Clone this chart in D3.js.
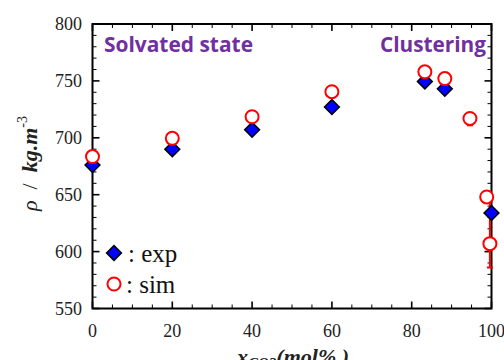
<!DOCTYPE html>
<html><head><meta charset="utf-8">
<script src="https://cdn.jsdelivr.net/npm/d3@7"></script>
<style>html,body{margin:0;padding:0;background:#fff;overflow:hidden}</style>
</head><body>
<svg id="c" width="504" height="360"></svg>
<script>
// ---- data ----
const expX = [0, 20, 40, 60, 83.3, 88.3, 100];
const expY = [676, 690, 707, 727, 749.5, 743, 634];
const simX = [0, 20, 40, 60, 83.3, 88.3, 94.6, 98.8, 99.6];
const simY = [683.5, 699.5, 718.5, 740.5, 758, 752, 717, 648, 607];
const simErrLow  = [null, null, null, null, null, null, 711, null, 586];
const simErrHigh = [null, null, null, null, null, null, 722, null, 645];
const xTicks = [0, 20, 40, 60, 80, 100];
const yTicks = [550, 600, 650, 700, 750, 800];
const legendLabels = [": exp", ": sim"];
const regionLabels = ["Solvated state", "Clustering"];

const svg = d3.select("#c");
const L = 92.5, R = 491.5, T = 24, B = 308.5;
const x = d3.scaleLinear().domain([0, 100]).range([L, R]);
const y = d3.scaleLinear().domain([550, 800]).range([B, T]);

const serif = "'Liberation Serif','Times New Roman',serif";

// minor ticks
const g = svg.append("g");
const xMinor = d3.range(0, 101, 5).filter(v => v % 20 !== 0);
const yMinor = d3.range(550, 801, 10).filter(v => v % 50 !== 0);
function tk(x1, y1, x2, y2, w) {
  g.append("line").attr("x1", x1).attr("y1", y1).attr("x2", x2).attr("y2", y2)
    .attr("stroke", "#000").attr("stroke-width", w);
}
xMinor.forEach(v => { tk(x(v), B, x(v), B - 4, 1); tk(x(v), T, x(v), T + 4, 1); });
xTicks.forEach(v => { tk(x(v), B, x(v), B - 7, 1.6); tk(x(v), T, x(v), T + 7, 1.6); });
yMinor.forEach(v => { tk(L, y(v), L + 4, y(v), 1); tk(R, y(v), R - 4, y(v), 1); });
yTicks.forEach(v => { tk(L, y(v), L + 7, y(v), 1.6); tk(R, y(v), R - 7, y(v), 1.6); });

// frame
svg.append("rect").attr("x", L).attr("y", T).attr("width", R - L).attr("height", B - T)
  .attr("fill", "none").attr("stroke", "#000").attr("stroke-width", 2);

// tick labels
svg.append("g").selectAll("text").data(yTicks).join("text")
  .attr("x", 82).attr("y", d => y(d) + 6).attr("text-anchor", "end")
  .attr("font-family", serif).attr("font-size", 18).attr("fill", "#222").text(d => d);
svg.append("g").selectAll("text").data(xTicks).join("text")
  .attr("x", d => x(d)).attr("y", 337).attr("text-anchor", "middle")
  .attr("font-family", serif).attr("font-size", 18).attr("fill", "#222").text(d => d);

// region labels
svg.append("text").attr("x", 104).attr("y", 52).attr("font-family", "'Open Sans',sans-serif")
  .attr("font-weight", "bold").attr("font-size", 22).attr("fill", "#7030A0")
  .attr("textLength", 149).attr("lengthAdjust", "spacingAndGlyphs").text(regionLabels[0]);
svg.append("text").attr("x", 380).attr("y", 52).attr("font-family", "'Open Sans',sans-serif")
  .attr("font-weight", "bold").attr("font-size", 22).attr("fill", "#7030A0")
  .attr("textLength", 106).attr("lengthAdjust", "spacingAndGlyphs").text(regionLabels[1]);

// error bars (sim)
const eb = svg.append("g").attr("stroke", "#ff0000").attr("stroke-width", 2);
simX.forEach((v, i) => {
  if (simErrLow[i] == null) return;
  eb.append("line").attr("x1", x(v)).attr("x2", x(v)).attr("y1", y(simErrLow[i])).attr("y2", y(simErrHigh[i]));
  eb.append("line").attr("x1", x(v) - 3).attr("x2", x(v) + 3).attr("y1", y(simErrLow[i])).attr("y2", y(simErrLow[i]));
});

// exp diamonds
const diamond = d3.symbol().type(d3.symbolSquare).size(110);
svg.append("g").selectAll("path").data(expX).join("path")
  .attr("d", diamond)
  .attr("transform", (d, i) => `translate(${x(d)},${y(expY[i])}) rotate(45)`)
  .attr("fill", "#0000ff").attr("stroke", "#000").attr("stroke-width", 1.5);

// sim circles
svg.append("g").selectAll("circle").data(simX).join("circle")
  .attr("cx", d => x(d)).attr("cy", (d, i) => y(simY[i])).attr("r", 6.5)
  .attr("fill", "#fff").attr("stroke", "#ff0000").attr("stroke-width", 2);

// legend
svg.append("path").attr("d", diamond).attr("transform", "translate(114,253) rotate(45)")
  .attr("fill", "#0000ff").attr("stroke", "#000").attr("stroke-width", 1.5);
svg.append("circle").attr("cx", 114).attr("cy", 284).attr("r", 6.5)
  .attr("fill", "#fff").attr("stroke", "#ff0000").attr("stroke-width", 2);
svg.append("text").attr("x", 128).attr("y", 262).attr("font-family", serif).attr("font-size", 25)
  .attr("fill", "#111").text(legendLabels[0]);
svg.append("text").attr("x", 126).attr("y", 293).attr("font-family", serif).attr("font-size", 25)
  .attr("fill", "#111").text(legendLabels[1]);

// y axis label
const yl = svg.append("text").attr("transform", "translate(37,211) rotate(-90)")
  .attr("font-family", serif).attr("font-size", 22).attr("fill", "#222");
yl.append("tspan").attr("font-style", "italic").text("ρ");
yl.append("tspan").attr("xml:space", "preserve").text("\u2002/\u2002");
yl.append("tspan").attr("font-style", "italic").attr("font-weight", "bold").text("kg.m");
yl.append("tspan").attr("dy", -10).attr("font-size", 14).text("-3");

// x axis label
const xl = svg.append("text").attr("x", 237).attr("y", 364)
  .attr("font-family", serif).attr("font-size", 22).attr("font-style", "italic").attr("font-weight", "bold").attr("fill", "#222");
xl.append("tspan").text("x");
xl.append("tspan").attr("dy", 4).attr("font-size", 15).text("CO2");
xl.append("tspan").attr("dy", -4).text("(mol% )");
</script>
</body></html>
